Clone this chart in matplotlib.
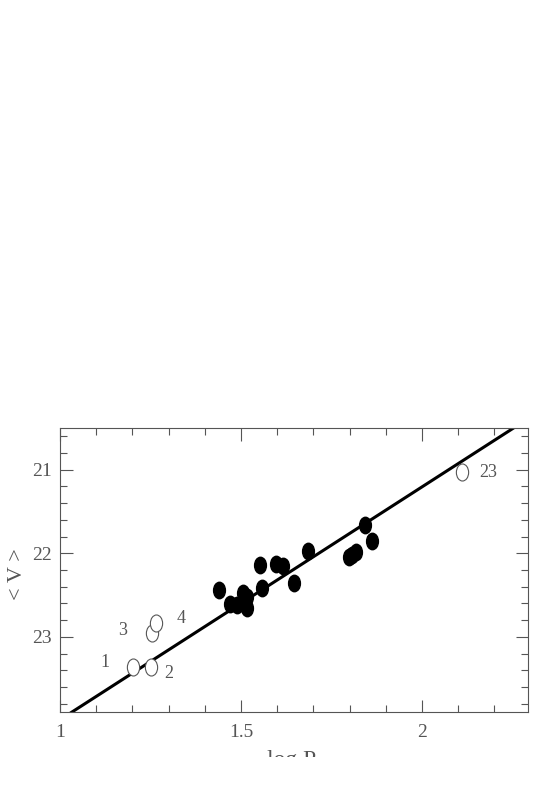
import numpy as np
import matplotlib.pyplot as plt
from matplotlib.markers import MarkerStyle
from matplotlib.path import Path
from matplotlib.transforms import Affine2D, Bbox
from matplotlib.ticker import MultipleLocator

# filled points (log P, <V>)
logp_fill = [1.439, 1.470, 1.488, 1.505, 1.517, 1.517, 1.552, 1.557, 1.597,
             1.615, 1.646, 1.685, 1.799, 1.808, 1.817, 1.843, 1.863]
v_fill = [22.44, 22.61, 22.62, 22.48, 22.52, 22.66, 22.14, 22.42, 22.13,
          22.15, 22.35, 21.97, 22.05, 22.02, 21.98, 21.66, 21.85]

# open points with their labels
logp_open = [1.203, 1.251, 1.253, 1.265, 2.112]
v_open = [23.36, 23.36, 22.95, 22.83, 21.03]
open_labels = ["1", "2", "3", "4", "23"]
label_dx = [-0.08, 0.05, -0.08, 0.07, 0.07]
label_dy = [-0.05, 0.08, -0.02, -0.05, 0.0]

# fitted relation <V> = a + b log P
fit_a, fit_b = 26.78, -2.787
fit_x = [1.032, 2.252]

grey = "#555555"
plt.rcParams['font.family'] = ['Liberation Serif', 'DejaVu Serif']

fig = plt.figure(figsize=(5.58, 7.98), dpi=100)
ax = fig.add_axes([0.1075, 0.1078, 0.8387, 0.3559])

ellipse = MarkerStyle(Path.unit_circle(), transform=Affine2D().scale(0.72, 1.0))

ax.plot(fit_x, [fit_a + fit_b * x for x in fit_x], color="black", lw=2.2, zorder=2)
ax.scatter(logp_fill, v_fill, marker=ellipse, s=140, color="black", zorder=3)
ax.scatter(logp_open, v_open, marker=ellipse, s=150, facecolors="white",
           edgecolors=grey, linewidths=0.8, zorder=3)
for x, y, t, dx, dy in zip(logp_open, v_open, open_labels, label_dx, label_dy):
    ax.text(x + dx, y + dy, t, ha="center", va="center", fontsize=13, color=grey)

ax.set_xlim(1.0, 2.293)
ax.set_ylim(23.9, 20.5)
ax.xaxis.set_major_locator(MultipleLocator(0.5))
ax.xaxis.set_minor_locator(MultipleLocator(0.1))
ax.yaxis.set_major_locator(MultipleLocator(1))
ax.yaxis.set_minor_locator(MultipleLocator(0.2))
ax.tick_params(which="both", direction="in", top=True, right=True,
               colors=grey, labelsize=14, labelcolor=grey)
ax.tick_params(which="major", length=9, width=0.8)
ax.tick_params(which="minor", length=5, width=0.8)
ax.tick_params(axis="x", pad=9)
ax.tick_params(axis="y", pad=6)
ax.xaxis.set_major_formatter(plt.FuncFormatter(lambda v, p: f"{v:g}"))
for s in ax.spines.values():
    s.set_color(grey)
    s.set_linewidth(0.8)

fig.text(0.031, 0.28, "< V >", rotation=90, ha="center", va="center",
         fontsize=16, color=grey)
xl = fig.text(0.523, 0.047, "log P", ha="center", va="center", fontsize=17, color=grey)
xl.set_clip_box(Bbox.from_bounds(0, 798 - 757, 558, 100))

fig.savefig("out.png", dpi=100)
